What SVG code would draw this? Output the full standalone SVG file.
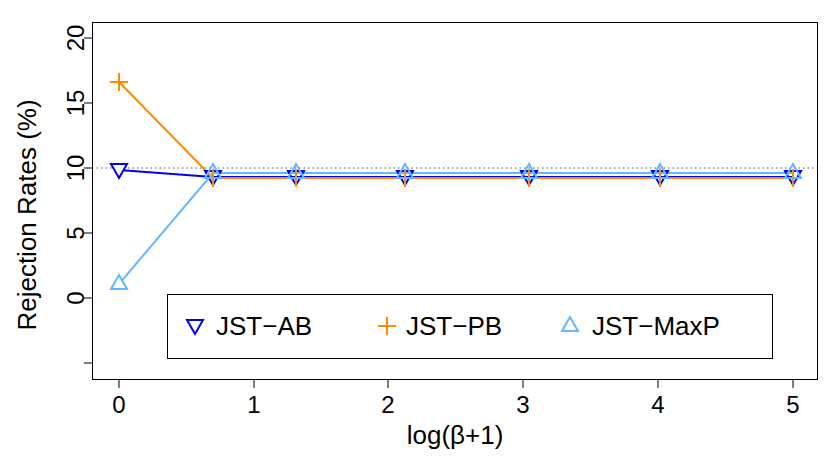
<svg xmlns="http://www.w3.org/2000/svg" width="830" height="461" viewBox="0 0 830 461">
<style>
text{font-family:"Liberation Sans",Arial,sans-serif;fill:#000}
.ax{stroke:#000;stroke-width:1;fill:none}
.tk{font-size:24px}
.ab{stroke:#0000EE;stroke-width:2;fill:none}
.pb{stroke:#FF8C00;stroke-width:2;fill:none}
.mp{stroke:#63B8FF;stroke-width:2;fill:none}
</style>
<defs>
<path id="tdn" d="M-8,-6 L8,-6 L0,8 Z"/>
<path id="tup" d="M-8,6 L8,6 L0,-8 Z"/>
<path id="pl" d="M-9,0 L9,0 M0,-9 L0,9"/>
</defs>
<rect width="830" height="461" fill="#fff"/>
<g id="axes">
<rect class="ax" x="92.5" y="22.5" width="725" height="357"/>
<path class="ax" d="M92,38h-8M92,103h-8M92,168h-8M92,233h-8M92,298h-8M92,363h-8"/>
<path class="ax" d="M119,380v8M254,380v8M388,380v8M523,380v8M658,380v8M793,380v8"/>
<g class="tk" text-anchor="middle">
<text transform="translate(76,38) rotate(-90)" y="8">20</text>
<text transform="translate(76,103) rotate(-90)" y="8">15</text>
<text transform="translate(76,168) rotate(-90)" y="8">10</text>
<text transform="translate(76,233) rotate(-90)" y="8">5</text>
<text transform="translate(76,298) rotate(-90)" y="8">0</text>
<text x="119" y="413">0</text><text x="254" y="413">1</text><text x="388" y="413">2</text>
<text x="523" y="413">3</text><text x="658" y="413">4</text><text x="793" y="413">5</text>
</g>
<text x="455" y="444" text-anchor="middle" font-size="26">log(β+1)</text>
<text transform="translate(36,215) rotate(-90)" text-anchor="middle" font-size="26">Rejection Rates (%)</text>
<line x1="92" y1="168" x2="818" y2="168" stroke="#555" stroke-dasharray="1.5,3"/>
</g>
<g id="connectors">
<polyline class="ab" points="119,170 213,177 296,177 405,177 529,177 660,177 793,177"/>
<polyline class="pb" points="119,82 213,178 296,178 405,178 529,178 660,178 793,178"/>
<polyline class="mp" points="119,284 213,173 296,173 405,173 529,173 660,173 793,173"/>
</g>
<g id="ab" class="ab" fill="#fff">
<use href="#tdn" x="119" y="170" fill="#fff"/><use href="#tdn" x="213" y="177"/><use href="#tdn" x="296" y="177"/><use href="#tdn" x="405" y="177"/><use href="#tdn" x="529" y="177"/><use href="#tdn" x="660" y="177"/><use href="#tdn" x="793" y="177"/>
</g>
<g id="pb" class="pb">
<use href="#pl" x="119" y="82"/><use href="#pl" x="213" y="178"/><use href="#pl" x="296" y="178"/><use href="#pl" x="405" y="178"/><use href="#pl" x="529" y="178"/><use href="#pl" x="660" y="178"/><use href="#pl" x="793" y="178"/>
</g>
<g id="mp" class="mp">
<use href="#tup" x="119" y="283" fill="#fff"/><use href="#tup" x="213" y="172"/><use href="#tup" x="296" y="172"/><use href="#tup" x="405" y="172"/><use href="#tup" x="529" y="172"/><use href="#tup" x="660" y="172"/><use href="#tup" x="793" y="172"/>
</g>
<g id="legend">
<rect x="167.5" y="294.5" width="605" height="64" fill="#fff" stroke="#000"/>
<use href="#tdn" x="195" y="326" class="ab" fill="#fff"/>
<text x="216" y="335" font-size="26">JST−AB</text>
<use href="#pl" x="387" y="326" class="pb"/>
<text x="406" y="335" font-size="26">JST−PB</text>
<use href="#tup" x="570" y="325" class="mp" fill="#fff"/>
<text x="592" y="335" font-size="26">JST−MaxP</text>
</g>
</svg>
